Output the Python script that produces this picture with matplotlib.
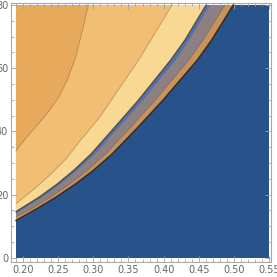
import matplotlib
matplotlib.use('Agg')
import matplotlib.pyplot as plt
from matplotlib.ticker import MultipleLocator

# plot region of the density/contour map
x_lo, x_hi = 0.19, 0.55
y_lo, y_hi = 0, 80

# contour boundaries, left edge -> top edge
a_x = [0.19, 0.1957, 0.2146, 0.2337, 0.2502, 0.2621, 0.2740, 0.2835, 0.2929]
a_y = [33.8, 35.6, 40.6, 45.5, 50.6, 55.8, 62.8, 71.0, 80.0]

b_x = [0.19, 0.2146, 0.2384, 0.2621, 0.2811, 0.3095, 0.3665, 0.4120]
b_y = [17.1, 21.5, 26.2, 31.5, 37.0, 44.6, 63.3, 80.0]

p_x = [0.19, 0.2230, 0.2490, 0.2723, 0.2970, 0.3292, 0.3642, 0.4101, 0.4303, 0.4604]
p_y = [14.6, 19.2, 23.4, 27.7, 32.9, 41.0, 49.9, 62.6, 68.9, 80.0]

q_x = [0.19, 0.2270, 0.2535, 0.2773, 0.3025, 0.3352, 0.3707, 0.4171, 0.4363, 0.4661]
q_y = [14.0, 19.2, 23.4, 27.7, 32.9, 41.0, 49.9, 62.6, 68.9, 80.0]

r_x = [0.19, 0.2126, 0.2395, 0.2670, 0.2918, 0.3180, 0.3522, 0.3882, 0.4360, 0.4563, 0.4874]
r_y = [12.9, 15.5, 19.2, 23.4, 27.7, 32.9, 41.0, 49.9, 62.6, 68.9, 80.0]

e_x = [0.19, 0.2196, 0.2470, 0.2750, 0.3003, 0.3270, 0.3622, 0.3992, 0.4480, 0.4683, 0.4991]
e_y = [11.8, 15.5, 19.2, 23.4, 27.7, 32.9, 41.0, 49.9, 62.6, 68.9, 80.0]

c_blue = '#28528a'
c_tan = '#c8935a'
c_gray = '#8d8083'
c_stripe = '#5470a6'
c_pale = '#f9d894'
c_mid = '#f1be73'
c_dark = '#e7a95b'

fig = plt.figure(figsize=(2.77, 2.77), dpi=100)
ax = fig.add_axes([11 / 277, 15 / 277, 260 / 277, 259.3 / 277])

# background = lowest level
ax.fill([x_lo, x_hi, x_hi, x_lo], [y_lo, y_lo, y_hi, y_hi], color=c_blue, lw=0)

# each level fills the region up-left of its boundary
layers = [(e_x, e_y, c_tan), (r_x, r_y, c_gray), (q_x, q_y, c_stripe),
          (p_x, p_y, c_pale), (b_x, b_y, c_mid), (a_x, a_y, c_dark)]
for bx, by, col in layers:
    ax.fill(list(bx) + [x_lo], list(by) + [y_hi], color=col, lw=0)

# contour lines
ax.plot(a_x, a_y, color='#a07f55', lw=0.6, alpha=0.8)
ax.plot(b_x, b_y, color='#a88a5c', lw=0.6, alpha=0.8)
ax.plot(p_x, p_y, color='#3a3530', lw=0.9, alpha=0.8)
ax.plot(r_x, r_y, color='#6a5a50', lw=0.5, alpha=0.6)
ax.plot(e_x, e_y, color='#2a2218', lw=1.1, alpha=0.85)

ax.set_xlim(0.1829, 0.5528)
ax.set_ylim(-1.36, 80.73)

ax.xaxis.set_major_locator(MultipleLocator(0.05))
ax.xaxis.set_minor_locator(MultipleLocator(0.01))
ax.yaxis.set_major_locator(MultipleLocator(20))
ax.yaxis.set_minor_locator(MultipleLocator(5))
ax.xaxis.set_major_formatter(plt.FuncFormatter(lambda v, p: '%.2f' % v))
ax.tick_params(which='both', direction='in', top=True, right=True,
               color='#a0a0a0', width=0.6, labelsize=7, labelcolor='#666666', pad=2)
ax.tick_params(which='major', length=4)
ax.tick_params(which='minor', length=2)
for s in ax.spines.values():
    s.set_color('#a8a8a8')
    s.set_linewidth(0.8)

fig.savefig('out.png', dpi=100)
